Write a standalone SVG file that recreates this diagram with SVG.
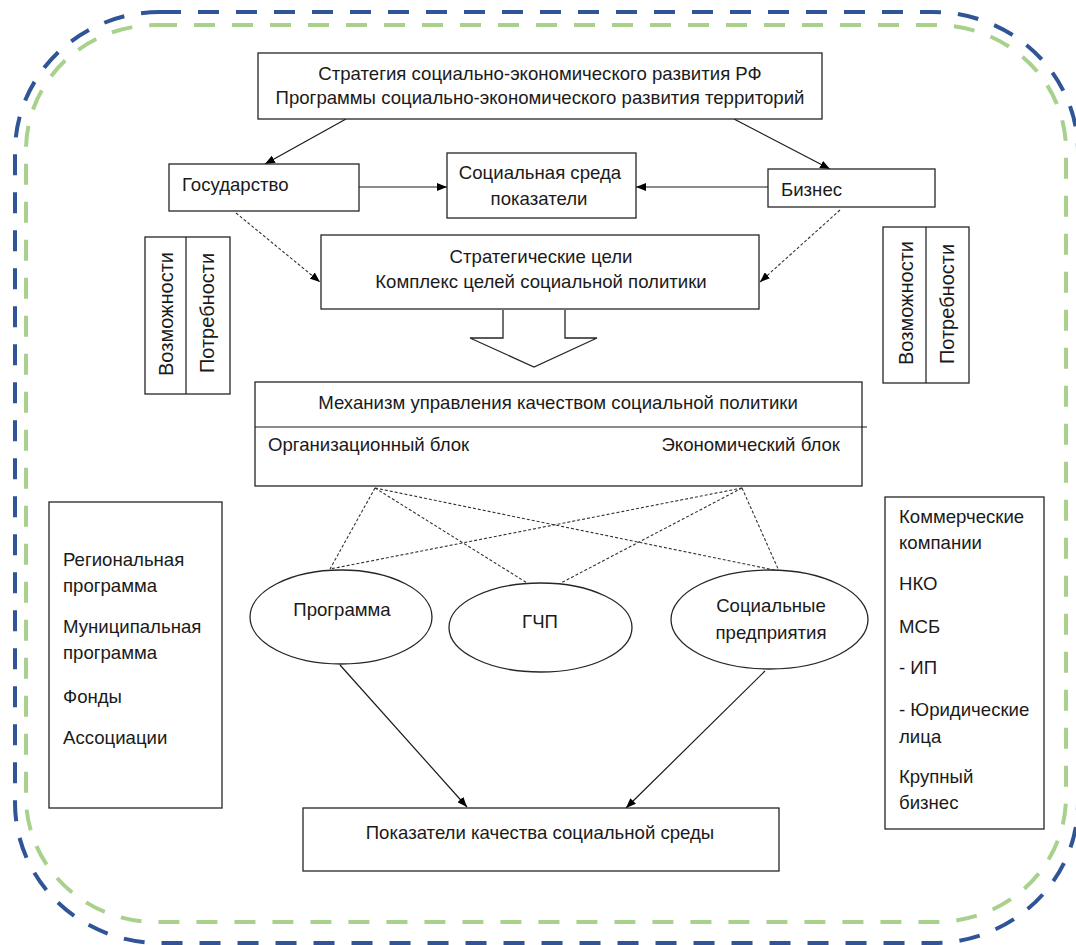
<svg xmlns="http://www.w3.org/2000/svg" width="1076" height="945" viewBox="0 0 1076 945">
<style>
.box{fill:#fff;stroke:#262626;stroke-width:1.3}
.t{font-family:"Liberation Sans",Arial,sans-serif;font-size:18.6px;fill:#1a1a1a}
.r{font-size:20px}
.c{text-anchor:middle}
.e{text-anchor:end}
.ln{fill:none;stroke:#1a1a1a;stroke-width:1.2}
.dl{fill:none;stroke:#333;stroke-width:1.1;stroke-dasharray:3 2}
.bd{fill:none;stroke-width:4;stroke-dasharray:21 17}
</style>
<defs>
<marker id="ah" viewBox="0 0 10 8" refX="10" refY="4" markerWidth="10" markerHeight="8" markerUnits="userSpaceOnUse" orient="auto">
<path d="M0,0 L10,4 L0,8 Z" fill="#000"/>
</marker>
</defs>
<g id="borders">
<rect class="bd" x="15" y="12" width="1063" height="931" rx="145" ry="140" stroke="#2F5597"/>
<rect class="bd" x="26" y="25" width="1040" height="897" rx="130" ry="125" stroke="#A9D18E"/>
</g>
<g id="connectors">
<line class="ln" x1="346" y1="119" x2="265" y2="164" marker-end="url(#ah)"/>
<line class="ln" x1="734" y1="119" x2="830" y2="169" marker-end="url(#ah)"/>
<line class="ln" x1="359" y1="187" x2="447" y2="187" marker-end="url(#ah)"/>
<line class="ln" x1="768" y1="187" x2="636" y2="187" marker-end="url(#ah)"/>
<line class="dl" x1="236" y1="213" x2="320" y2="282" marker-end="url(#ah)"/>
<line class="dl" x1="840" y1="210" x2="760" y2="282" marker-end="url(#ah)"/>
<line class="dl" x1="375" y1="488" x2="330" y2="569"/>
<line class="dl" x1="375" y1="488" x2="532" y2="586"/>
<line class="dl" x1="375" y1="488" x2="779" y2="571"/>
<line class="dl" x1="742" y1="488" x2="330" y2="569"/>
<line class="dl" x1="742" y1="488" x2="559" y2="584"/>
<line class="dl" x1="742" y1="488" x2="779" y2="571"/>
<line class="ln" x1="340" y1="665" x2="467" y2="807" marker-end="url(#ah)"/>
<line class="ln" x1="765" y1="671" x2="626" y2="808" marker-end="url(#ah)"/>
</g>
<g id="strategy">
<rect class="box" x="258" y="53" width="564" height="66"/>
<text class="t c" x="540" y="80">Стратегия социально-экономического развития РФ</text>
<text class="t c" x="540" y="104">Программы социально-экономического развития территорий</text>
</g>
<g id="state">
<rect class="box" x="169" y="164" width="190" height="47"/>
<text class="t" x="182" y="191">Государство</text>
</g>
<g id="social-env">
<rect class="box" x="447" y="153" width="189" height="65"/>
<text class="t c" x="540" y="179">Социальная среда</text>
<text class="t c" x="539" y="205">показатели</text>
</g>
<g id="business">
<rect class="box" x="768" y="169" width="167" height="38"/>
<text class="t" x="781" y="196">Бизнес</text>
</g>
<g id="goals">
<rect class="box" x="321" y="235" width="438" height="74"/>
<text class="t c" x="541" y="263">Стратегические цели</text>
<text class="t c" x="541" y="288">Комплекс целей социальной политики</text>
</g>
<g id="left-needs">
<rect class="box" x="145" y="237" width="85" height="157"/>
<line class="ln" x1="186" y1="237" x2="186" y2="394"/>
<text class="t r c" transform="translate(173,314) rotate(-90)">Возможности</text>
<text class="t r c" transform="translate(214,313) rotate(-90)">Потребности</text>
</g>
<g id="right-needs">
<rect class="box" x="883" y="227" width="86" height="156"/>
<line class="ln" x1="926" y1="227" x2="926" y2="383"/>
<text class="t r c" transform="translate(913,303) rotate(-90)">Возможности</text>
<text class="t r c" transform="translate(954,304) rotate(-90)">Потребности</text>
</g>
<g id="block-arrow">
<path d="M503,310 V338 H470 L534,367 L597,338 H565 V310" fill="#fff" stroke="#262626" stroke-width="1.3"/>
</g>
<g id="mechanism">
<rect class="box" x="255" y="382" width="607" height="104"/>
<line class="ln" x1="255" y1="427" x2="867" y2="427"/>
<text class="t c" x="558" y="409">Механизм управления качеством социальной политики</text>
<text class="t" x="268" y="451">Организационный блок</text>
<text class="t e" x="840" y="451">Экономический блок</text>
</g>
<g id="program">
<ellipse class="box" cx="341" cy="617" rx="91" ry="47"/>
<text class="t c" x="342" y="616">Программа</text>
</g>
<g id="ppp">
<ellipse class="box" cx="540.5" cy="627.5" rx="91.5" ry="44.5"/>
<text class="t c" x="540" y="628">ГЧП</text>
</g>
<g id="social-enterprises">
<ellipse class="box" cx="769.5" cy="619.5" rx="98.5" ry="49.5"/>
<text class="t c" x="771" y="612">Социальные</text>
<text class="t c" x="771" y="639">предприятия</text>
</g>
<g id="left-list">
<rect class="box" x="49" y="502" width="173" height="306"/>
<text class="t" x="63" y="566">Региональная</text>
<text class="t" x="63" y="592">программа</text>
<text class="t" x="63" y="633">Муниципальная</text>
<text class="t" x="63" y="659">программа</text>
<text class="t" x="63" y="703">Фонды</text>
<text class="t" x="63" y="744">Ассоциации</text>
</g>
<g id="right-list">
<rect class="box" x="885" y="497" width="159" height="332"/>
<text class="t" x="899" y="523">Коммерческие</text>
<text class="t" x="899" y="549">компании</text>
<text class="t" x="899" y="590">НКО</text>
<text class="t" x="899" y="633">МСБ</text>
<text class="t" x="899" y="674">- ИП</text>
<text class="t" x="899" y="716">- Юридические</text>
<text class="t" x="899" y="743">лица</text>
<text class="t" x="899" y="783">Крупный</text>
<text class="t" x="899" y="809">бизнес</text>
</g>
<g id="quality">
<rect class="box" x="303" y="808" width="476" height="63"/>
<text class="t c" x="540" y="839">Показатели качества социальной среды</text>
</g>
</svg>
